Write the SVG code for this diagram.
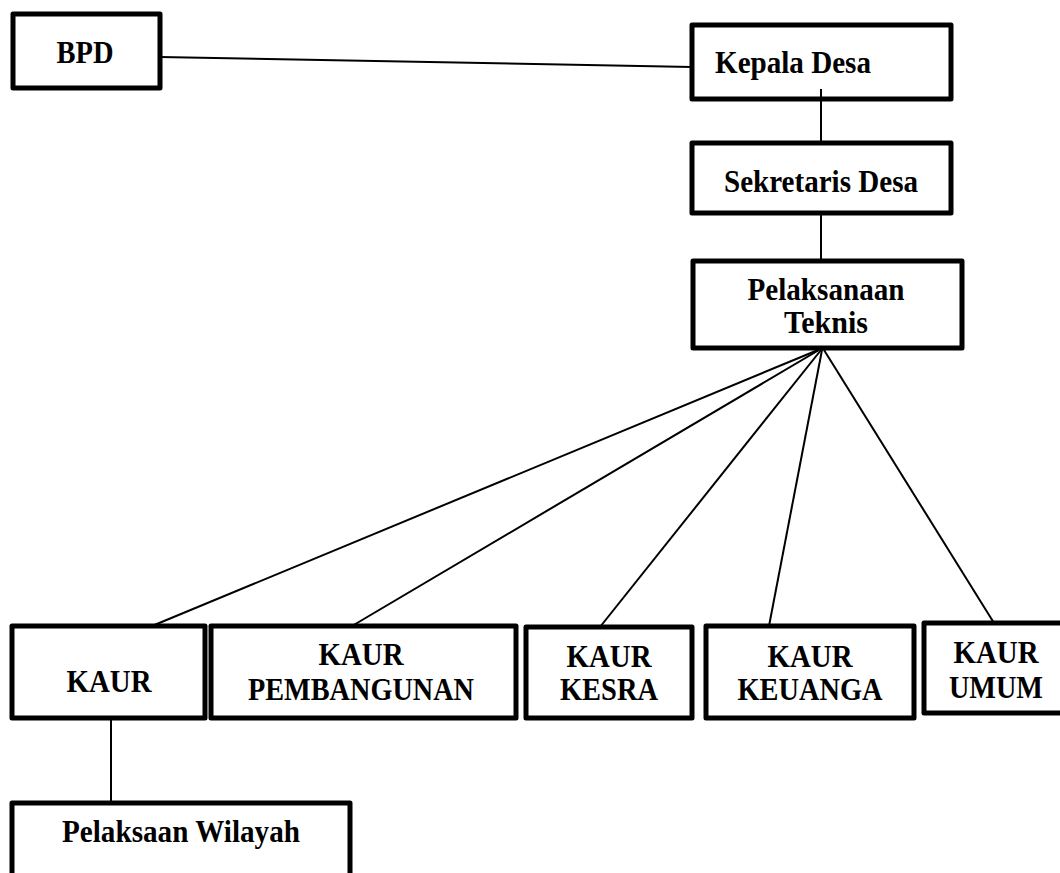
<svg xmlns="http://www.w3.org/2000/svg" width="1060" height="873" viewBox="0 0 1060 873">
<style>
.box{fill:#fff;stroke:#000;stroke-width:5;stroke-linejoin:round}
.lbl{font-family:"Liberation Serif","Times New Roman",serif;font-weight:bold;font-size:31px;fill:#000;text-anchor:middle}
.conn line{stroke:#000;stroke-width:2}
</style>
<rect width="1060" height="873" fill="#fff"/>
<g id="connectors" class="conn">
<line x1="160" y1="57" x2="692" y2="67"/>
<line x1="821" y1="89" x2="821" y2="143"/>
<line x1="821" y1="213" x2="821" y2="261"/>
<line x1="818" y1="350" x2="152" y2="626"/>
<line x1="819" y1="350" x2="352" y2="626"/>
<line x1="821" y1="350" x2="600" y2="627"/>
<line x1="822" y1="350" x2="769" y2="626"/>
<line x1="824" y1="350" x2="994" y2="623"/>
<line x1="111" y1="718" x2="111" y2="803"/>
</g>
<g id="bpd">
<rect class="box" x="13" y="14" width="147" height="74"/>
<text class="lbl" x="85" y="63" textLength="57" lengthAdjust="spacingAndGlyphs">BPD</text>
</g>
<g id="kepala-desa">
<rect class="box" x="692" y="25" width="259" height="74"/>
<line x1="821" y1="89" x2="821" y2="99" stroke="#000" stroke-width="2"/>
<text class="lbl" x="715" y="73" style="text-anchor:start" textLength="156" lengthAdjust="spacingAndGlyphs">Kepala Desa</text>
</g>
<g id="sekretaris-desa">
<rect class="box" x="692" y="143" width="259" height="70"/>
<text class="lbl" x="821" y="192" textLength="194" lengthAdjust="spacingAndGlyphs">Sekretaris Desa</text>
</g>
<g id="pelaksanaan-teknis">
<rect class="box" x="693" y="261" width="269" height="87"/>
<text class="lbl" x="826" y="300" textLength="157" lengthAdjust="spacingAndGlyphs">Pelaksanaan</text>
<text class="lbl" x="826" y="333" textLength="84" lengthAdjust="spacingAndGlyphs">Teknis</text>
</g>
<g id="kaur">
<rect class="box" x="12" y="626" width="193" height="92"/>
<text class="lbl" x="109" y="692" textLength="85" lengthAdjust="spacingAndGlyphs">KAUR</text>
</g>
<g id="kaur-pembangunan">
<rect class="box" x="211" y="626" width="305" height="92"/>
<text class="lbl" x="361" y="665" textLength="85" lengthAdjust="spacingAndGlyphs">KAUR</text>
<text class="lbl" x="361" y="700" textLength="226" lengthAdjust="spacingAndGlyphs">PEMBANGUNAN</text>
</g>
<g id="kaur-kesra">
<rect class="box" x="526" y="627" width="166" height="91"/>
<text class="lbl" x="609" y="667" textLength="85" lengthAdjust="spacingAndGlyphs">KAUR</text>
<text class="lbl" x="609" y="700" textLength="98" lengthAdjust="spacingAndGlyphs">KESRA</text>
</g>
<g id="kaur-keuanga">
<rect class="box" x="706" y="626" width="208" height="92"/>
<text class="lbl" x="810" y="667" textLength="85" lengthAdjust="spacingAndGlyphs">KAUR</text>
<text class="lbl" x="810" y="700" textLength="145" lengthAdjust="spacingAndGlyphs">KEUANGA</text>
</g>
<g id="kaur-umum">
<rect class="box" x="924" y="623" width="144" height="90"/>
<text class="lbl" x="996" y="663" textLength="85" lengthAdjust="spacingAndGlyphs">KAUR</text>
<text class="lbl" x="996" y="698" textLength="94" lengthAdjust="spacingAndGlyphs">UMUM</text>
</g>
<g id="pelaksaan-wilayah">
<rect class="box" x="12" y="803" width="338" height="80"/>
<text class="lbl" x="181" y="842" textLength="238" lengthAdjust="spacingAndGlyphs">Pelaksaan Wilayah</text>
</g>
</svg>
